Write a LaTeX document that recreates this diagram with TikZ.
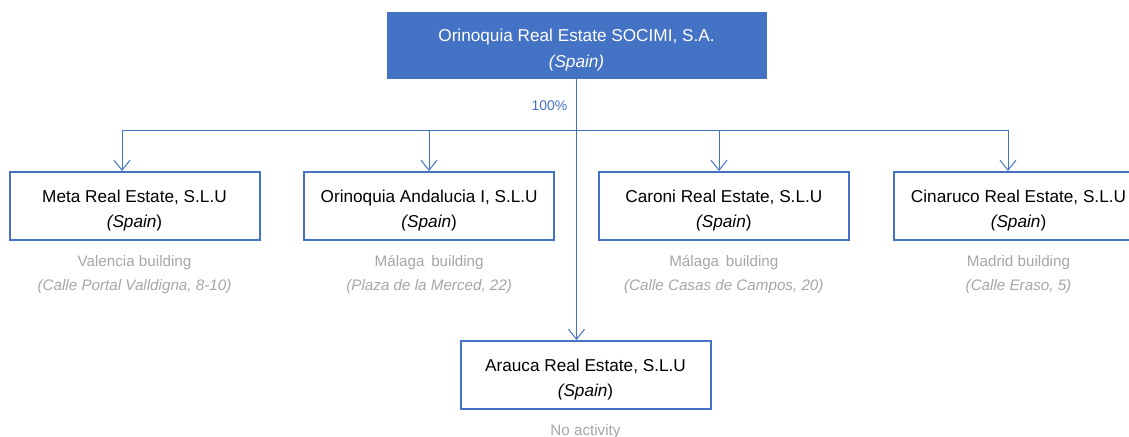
\documentclass[tikz,border=0pt]{standalone}
\usepackage{fontspec}
\setmainfont{Liberation Sans}
\usepackage{tikz}
\usetikzlibrary{positioning}
\usetikzlibrary{arrows.meta}
\definecolor{orblue}{HTML}{4472C4}
\definecolor{notegray}{HTML}{A6A6A6}

\begin{document}
\begin{tikzpicture}
		[x=0.75pt, y=-0.75pt, node distance={221pt},
		holding/.style = {draw=orblue, fill=orblue, text=white, minimum width=284pt, minimum height=49.5pt, align=center, text height=36.4pt, font=\fontsize{12.9}{19.5}\selectfont},
		sub/.style = {draw=orblue, line width=1.5pt, fill=white, minimum width=187.5pt, minimum height=51pt, align=center, text height=34.9pt, font=\fontsize{12.9}{18.75}\selectfont},
		note/.style = {text=notegray, align=center, inner sep=0pt, font=\fontsize{11.4}{18}\selectfont},
		pct/.style = {text=orblue, inner sep=0pt, font=\fontsize{10.5}{12}\selectfont},
		line/.style = {draw=orblue, line width=0.75pt},
		link/.style = {line, -{Straight Barb[length=7.5pt,width=12pt]}}]
	\useasboundingbox (0,0) rectangle (1129,436);
	\node[holding] (1) at (576.5,45) {Orinoquia Real Estate SOCIMI, S.A.\\\textit{(Spain)}};
	\node[sub] (2) at (134.5,206) {Meta Real Estate, S.L.U\\\textit{(Spain})};
	\node[sub] (3) [right of = 2] {Orinoquia Andalucia I, S.L.U\\\textit{(Spain})};
	\node[sub] (4) [right of = 3] {Caroni Real Estate, S.L.U\\\textit{(Spain})};
	\node[sub] (5) [right of = 4] {Cinaruco Real Estate, S.L.U\\\textit{(Spain})};
	\node[sub] (6) at (585.5,375) {Arauca Real Estate, S.L.U\\\textit{(Spain})};
	\node[note] (7) [below=10.5pt of 2] {Valencia building\\\textit{(Calle Portal Valldigna, 8-10)}};
	\node[note] (8) [below=10.5pt of 3] {Málaga\, building\\\textit{(Plaza de la Merced, 22)}};
	\node[note] (9) [below=10.5pt of 4] {Málaga\, building\\\textit{(Calle Casas de Campos, 20)}};
	\node[note] (10) [below=10.5pt of 5] {Madrid building\\\textit{(Calle Eraso, 5)}};
	\node[note] (11) [below=10.5pt of 6] {No activity};
	\coordinate (b2) at (122,130);
	\coordinate (b3) at (429,130);
	\coordinate (b4) at (719,130);
	\coordinate (b5) at (1008,130);
	\draw[link] (1) -- node[pct, pos=0.106, left=6.5pt] {100\%} (6.north -| 1);
	\draw[line] (b2) -- (b5);
	\draw[link] (b2) -- (b2 |- 2.north);
	\draw[link] (b3) -- (b3 |- 3.north);
	\draw[link] (b4) -- (b4 |- 4.north);
	\draw[link] (b5) -- (b5 |- 5.north);
	\end{tikzpicture}
\end{document}
